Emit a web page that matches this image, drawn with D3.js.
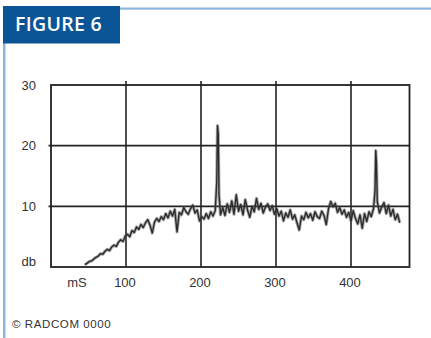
<!DOCTYPE html>
<html>
<head>
<meta charset="utf-8">
<script src="https://cdn.jsdelivr.net/npm/d3@7"></script>
<style>
  body { margin: 0; background: #fff; }
  svg { display: block; }
</style>
</head>
<body>
<svg id="chart" width="431" height="338"></svg>
<script>
// reflection trace
var timeMs = [45, 48, 51, 54, 57, 60, 63, 66, 69, 72, 75, 78, 81, 84, 87, 90, 93, 96, 99,
  102, 105, 108, 111, 114, 117, 120, 123, 126, 129, 132, 135, 138, 141, 144, 147, 150,
  153, 156, 159, 162, 165, 168, 171, 174, 177, 180, 183, 186, 189, 192, 195, 198, 201,
  204, 207, 210, 213, 216, 219, 221, 222, 223, 224, 226, 229, 232, 235, 238, 241, 244,
  247, 250, 253, 256, 259, 262, 265, 268, 271, 274, 277, 280, 283, 286, 289, 292, 295,
  298, 301, 304, 307, 310, 313, 316, 319, 322, 325, 328, 331, 334, 337, 340, 343, 346,
  349, 352, 355, 358, 361, 364, 367, 370, 373, 376, 379, 382, 385, 388, 391, 394, 397,
  400, 403, 406, 409, 412, 415, 418, 421, 424, 427, 430, 432, 433, 434, 435, 438, 441,
  444, 447, 450, 453, 456, 459, 462, 465];
var levelDb = [0.4, 0.6, 0.9, 1.0, 1.3, 1.6, 1.8, 2.2, 2.1, 2.6, 2.9, 2.7, 3.3, 3.6, 3.4, 4.1, 4.5, 4.2, 5.1,
  5.4, 5.0, 6.0, 5.7, 6.6, 6.2, 7.0, 6.5, 7.3, 7.8, 6.9, 5.6, 7.4, 8.0, 7.5, 8.3, 7.8,
  8.8, 8.1, 9.2, 8.4, 9.5, 5.8, 9.0, 8.6, 9.8, 9.1, 8.7, 9.6, 10.2, 8.9, 9.4, 7.6, 8.3,
  7.9, 8.8, 8.0, 9.1, 8.4, 9.3, 14.0, 23.3, 22.0, 12.0, 8.6, 9.8, 8.5, 10.4, 9.0, 10.9, 8.7,
  11.9, 9.2, 10.3, 8.6, 11.1, 9.4, 8.2, 10.0, 9.1, 11.3, 9.5, 10.5, 8.9, 9.9, 10.4, 9.3, 10.1,
  8.7, 9.6, 8.4, 9.2, 7.6, 8.9, 8.2, 9.4, 7.9, 8.6, 7.3, 6.1, 8.4, 7.8, 9.0, 8.1, 8.8,
  7.7, 9.1, 8.3, 8.0, 9.2, 8.5, 7.0, 9.6, 10.8, 9.9, 10.5, 9.0, 9.8, 8.7, 9.4, 8.2, 9.0,
  7.6, 9.3, 8.0, 7.1, 8.6, 6.4, 8.8, 7.5, 9.1, 8.3, 9.6, 12.5, 19.2, 17.0, 10.8, 8.9, 9.9,
  10.6, 8.8, 10.2, 8.4, 9.5, 7.8, 8.7, 7.3];

var xTicks = [100, 200, 300, 400];
var yTicks = [10, 20, 30];

var svg = d3.select('#chart');
var ink = '#222';
var paleBlue = '#8db7dc';

// frame decoration
svg.append('rect').attr('x', 3).attr('y', 43).attr('width', 2.5).attr('height', 295).attr('fill', paleBlue);
svg.append('rect').attr('x', 120).attr('y', 7.5).attr('width', 311).attr('height', 2.2).attr('fill', paleBlue);
svg.append('rect').attr('x', 3).attr('y', 6).attr('width', 117).attr('height', 37.5).attr('fill', '#0b5596');
svg.append('text').attr('x', 15).attr('y', 31)
  .attr('font-family', '"Open Sans", Lato, sans-serif').attr('font-weight', 600)
  .attr('font-size', 19.5).attr('fill', '#fff').attr('letter-spacing', 0.3)
  .text('FIGURE 6');

var x = d3.scaleLinear().domain([0, 478]).range([51, 409.5]);
var y = d3.scaleLinear().domain([0, 30]).range([267, 85]);

var grid = svg.append('g').attr('stroke', ink).attr('stroke-width', 1.6);

grid.selectAll('line.v').data(xTicks).enter().append('line')
  .attr('class', 'v')
  .attr('x1', function(d) { return x(d); }).attr('x2', function(d) { return x(d); })
  .attr('y1', y(30) - 4).attr('y2', y(0));

grid.selectAll('line.h').data(yTicks.filter(function(d) { return d < 30; })).enter().append('line')
  .attr('class', 'h')
  .attr('x1', x(0) - 2.5).attr('x2', x(478))
  .attr('y1', function(d) { return y(d); }).attr('y2', function(d) { return y(d); });

// the trace, drawn twice to get the soft printed look
var line = d3.line()
  .x(function(d, i) { return x(timeMs[i]); })
  .y(function(d) { return y(d); });

svg.append('path').datum(levelDb)
  .attr('fill', 'none').attr('stroke', '#555').attr('stroke-width', 3.2).attr('stroke-opacity', 0.5)
  .attr('stroke-linejoin', 'round').attr('d', line);
svg.append('path').datum(levelDb)
  .attr('fill', 'none').attr('stroke', '#2c2c2c').attr('stroke-width', 1.4)
  .attr('stroke-linejoin', 'round').attr('d', line);

// box border
svg.append('rect').attr('x', x(0)).attr('y', y(30))
  .attr('width', x(478) - x(0)).attr('height', y(0) - y(30))
  .attr('fill', 'none').attr('stroke', ink).attr('stroke-width', 1.8);

var labelFont = 'Liberation Sans, Arial, sans-serif';

svg.selectAll('text.ylab').data(yTicks).enter().append('text')
  .attr('class', 'ylab')
  .attr('x', 36).attr('y', function(d) { return y(d); }).attr('dy', '0.36em')
  .attr('text-anchor', 'end').attr('font-family', labelFont).attr('font-size', 13).attr('fill', '#333')
  .text(function(d) { return d; });
svg.append('text').attr('x', 36).attr('y', y(0)).attr('dy', '-0.05em')
  .attr('text-anchor', 'end').attr('font-family', labelFont).attr('font-size', 13).attr('fill', '#333')
  .text('db');

svg.selectAll('text.xlab').data(xTicks).enter().append('text')
  .attr('class', 'xlab')
  .attr('x', function(d) { return x(d) - 1; }).attr('y', 286.5)
  .attr('text-anchor', 'middle').attr('font-family', labelFont).attr('font-size', 13).attr('fill', '#333')
  .text(function(d) { return d; });
svg.append('text').attr('x', 77).attr('y', 286.5)
  .attr('text-anchor', 'middle').attr('font-family', labelFont).attr('font-size', 13).attr('fill', '#333')
  .text('mS');

svg.append('text').attr('x', 12).attr('y', 327.5)
  .attr('font-family', labelFont).attr('font-size', 11.5).attr('fill', '#333').attr('letter-spacing', 0.6)
  .text('\u00a9 RADCOM 0000');
</script>
</body>
</html>
